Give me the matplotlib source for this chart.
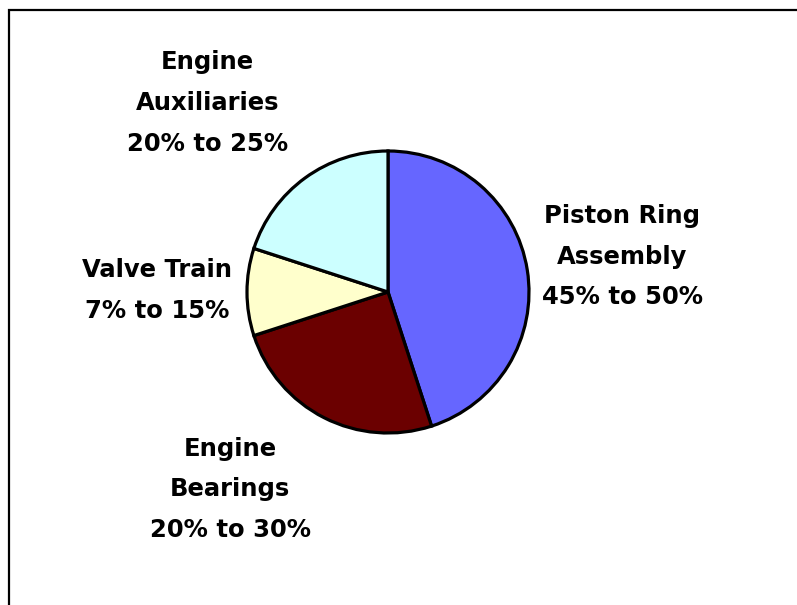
import matplotlib
matplotlib.use("Agg")
import matplotlib.pyplot as plt
from matplotlib.patches import Rectangle

# Share of engine friction losses by component group
categories = ["Piston Ring\nAssembly", "Engine\nBearings", "Valve Train", "Engine\nAuxiliaries"]
shares = [45, 25, 10, 20]
ranges = ["45% to 50%", "20% to 30%", "7% to 15%", "20% to 25%"]
colors = ["#6666FF", "#6B0000", "#FFFFCC", "#CCFFFF"]

W, H = 797, 605
fig = plt.figure(figsize=(W / 100, H / 100), dpi=100)
fig.patch.set_facecolor("white")

# chart area frame, open to the right and bottom
fig.patches.append(Rectangle((9 / W, -0.1), 1.2, (H - 10) / H + 0.1,
                             transform=fig.transFigure, fill=False,
                             edgecolor="black", linewidth=1.6))

cx, cy, r = 388, 292, 141
ax = fig.add_axes([(cx - r) / W, (H - cy - r) / H, 2 * r / W, 2 * r / H])
wedges, _ = ax.pie(shares, colors=colors, startangle=90, counterclock=False,
                   radius=1.0,
                   wedgeprops=dict(edgecolor="black", linewidth=2.3, clip_on=False))
ax.set_xlim(-1, 1)
ax.set_ylim(-1, 1)
ax.set_aspect("equal")
ax.axis("off")

label_pos = [(1.66, 0.25), (-1.12, -1.40), (-1.64, 0.01), (-1.28, 1.34)]
for name, rng, (x, y) in zip(categories, ranges, label_pos):
    ax.text(x, y, f"{name}\n{rng}", ha="center", va="center",
            fontsize=17.5, fontweight="bold", family="DejaVu Sans",
            linespacing=1.88, clip_on=False)

fig.savefig("out.png", dpi=100)
